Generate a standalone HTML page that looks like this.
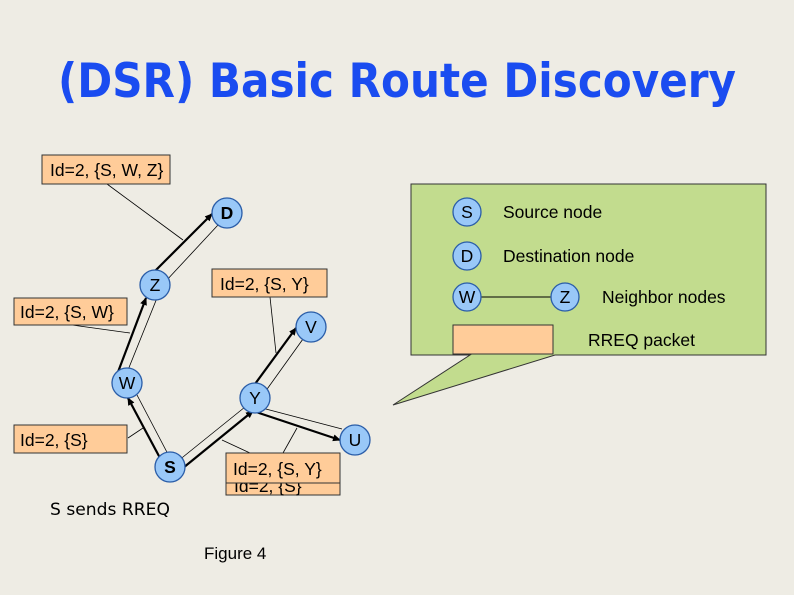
<!DOCTYPE html>
<html><head><meta charset="utf-8"><style>
html,body{margin:0;padding:0;background:#eeece4;}
svg{display:block}
text{font-family:"Liberation Sans",Arial,sans-serif;}
</style></head><body>
<svg width="794" height="595" viewBox="0 0 794 595" xmlns="http://www.w3.org/2000/svg">
<defs>
<marker id="ah" markerWidth="8" markerHeight="8" refX="7" refY="4" orient="auto" markerUnits="userSpaceOnUse">
<path d="M0,0.5 L8,4 L0,7.5 Z" fill="#000"/></marker>
</defs>
<rect width="794" height="595" fill="#eeece4"/>
<text x="397" y="97" text-anchor="middle" font-size="47" font-weight="bold" fill="#1a4cf0" style="font-family:'DejaVu Sans',sans-serif" textLength="678" lengthAdjust="spacingAndGlyphs">(DSR) Basic Route Discovery</text>

<!-- legend callout -->
<path d="M411,184 H766 V355 H555 L393,405 L470,355 H411 Z" fill="#c2dc8e" stroke="#333" stroke-width="1"/>
<line x1="481" y1="297" x2="551" y2="297" stroke="#000" stroke-width="1"/>
<rect x="453" y="325" width="100" height="29" fill="#ffcc99" stroke="#333"/>
<g fill="#99c8f8" stroke="#2a5da8" stroke-width="1.3">
<circle cx="467" cy="212" r="14"/><circle cx="467" cy="256" r="14"/>
<circle cx="467" cy="297" r="14"/><circle cx="565" cy="297" r="14"/>
</g>
<g font-size="17.5" fill="#000">
<text x="467" y="218" text-anchor="middle">S</text>
<text x="467" y="262" text-anchor="middle">D</text>
<text x="467" y="303" text-anchor="middle">W</text>
<text x="565" y="303" text-anchor="middle">Z</text>
<text x="503" y="218">Source node</text>
<text x="503" y="262">Destination node</text>
<text x="602" y="303">Neighbor nodes</text>
<text x="588" y="346">RREQ packet</text>
</g>

<!-- thin edge lines -->
<g stroke="#000" stroke-width="0.8">
<line x1="165" y1="282" x2="218" y2="225"/>
<line x1="128" y1="370" x2="157" y2="298"/>
<line x1="137" y1="395" x2="170" y2="458"/>
<line x1="178" y1="461" x2="245" y2="407"/>
<line x1="265" y1="392" x2="303" y2="339"/>
<line x1="262" y1="408" x2="342" y2="429"/>
<line x1="107" y1="184" x2="183" y2="240"/>
<line x1="72" y1="325" x2="130" y2="333"/>
<line x1="128" y1="438" x2="143" y2="428"/>
<line x1="270" y1="297" x2="276" y2="353"/>
<line x1="250" y1="453" x2="222" y2="440"/>
<line x1="283" y1="453" x2="297" y2="428"/>
</g>
<!-- thick arrows -->
<g stroke="#000" stroke-width="2.2" marker-end="url(#ah)">
<line x1="155" y1="271" x2="212" y2="214"/>
<line x1="118" y1="372" x2="146" y2="298"/>
<line x1="160" y1="458" x2="128" y2="398"/>
<line x1="183" y1="468" x2="253" y2="411"/>
<line x1="255" y1="384" x2="296" y2="328"/>
<line x1="256" y1="412" x2="340" y2="440"/>
</g>

<!-- boxes -->
<g fill="#ffcc99" stroke="#333" stroke-width="1">
<rect x="42" y="155" width="128" height="29"/>
<rect x="212" y="269" width="115" height="28"/>
<rect x="14" y="298" width="113" height="27"/>
<rect x="14" y="425" width="113" height="28"/>
<rect x="226" y="466" width="114" height="29"/>
</g>
<text x="234" y="492" font-size="17.5">Id=2, {S}</text>
<rect x="226" y="453" width="114" height="30" fill="#ffcc99" stroke="#333"/>
<g font-size="17.5" fill="#000">
<text x="50" y="176">Id=2, {S, W, Z}</text>
<text x="220" y="290">Id=2, {S, Y}</text>
<text x="20" y="318">Id=2, {S, W}</text>
<text x="20" y="446">Id=2, {S}</text>
<text x="233" y="475">Id=2, {S, Y}</text>
</g>

<!-- nodes -->
<g fill="#99c8f8" stroke="#2a5da8" stroke-width="1.3">
<circle cx="227" cy="213" r="15"/><circle cx="155" cy="285" r="15"/>
<circle cx="127" cy="383" r="15"/><circle cx="311" cy="327" r="15"/>
<circle cx="255" cy="398" r="15"/><circle cx="355" cy="440" r="15"/>
<circle cx="170" cy="467" r="15"/>
</g>
<g font-size="17.5" fill="#000" text-anchor="middle">
<text x="227" y="219" font-weight="bold">D</text>
<text x="155" y="291">Z</text>
<text x="127" y="389">W</text>
<text x="311" y="333">V</text>
<text x="255" y="404">Y</text>
<text x="355" y="446">U</text>
<text x="170" y="473" font-weight="bold">S</text>
</g>

<text x="50" y="515" font-size="17" style="font-family:'DejaVu Sans',sans-serif" textLength="120" lengthAdjust="spacingAndGlyphs">S sends RREQ</text>
<text x="204" y="559" font-size="17">Figure 4</text>
</svg>
</body></html>
